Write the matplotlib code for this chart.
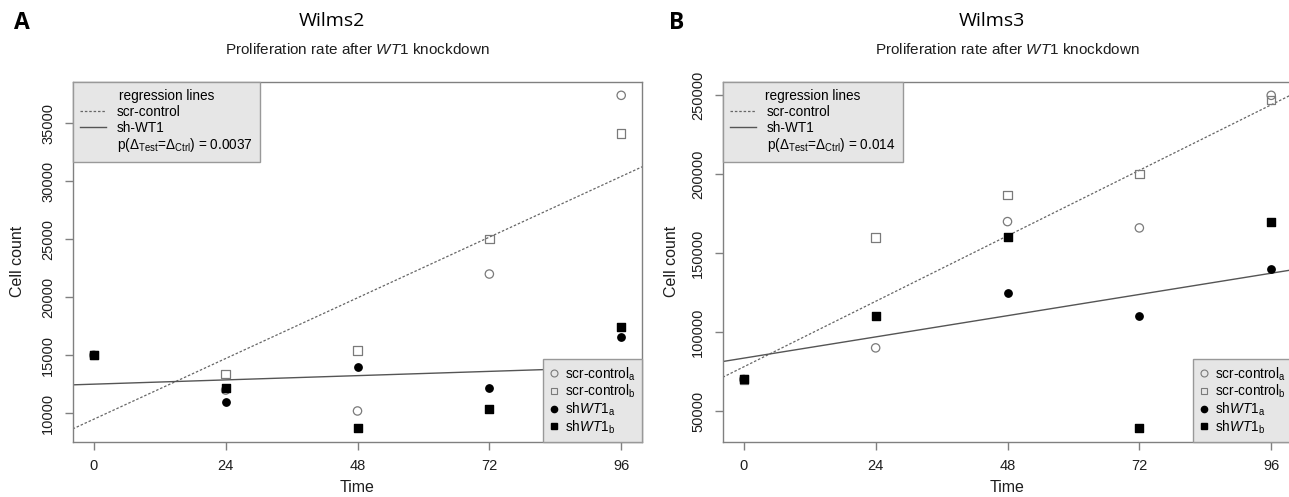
import numpy as np
import matplotlib
matplotlib.use("Agg")
import matplotlib.pyplot as plt
from matplotlib.lines import Line2D

plt.rcParams["font.family"] = ["Liberation Sans", "DejaVu Sans"]
plt.rcParams["mathtext.fontset"] = "custom"
plt.rcParams["mathtext.rm"] = "Liberation Sans"
plt.rcParams["mathtext.it"] = "Liberation Sans:italic"

time = [0, 24, 48, 72, 96]

# Wilms2
w2_scr_a = [15000, 12000, 10200, 22000, 37400]
w2_scr_b = [15000, 13400, 15400, 25000, 34100]
w2_sh_a = [15000, 11000, 14000, 12200, 16600]
w2_sh_b = [15000, 12200, 8700, 10350, 17400]
w2_p = "0.0037"

# Wilms3
w3_scr_a = [70000, 90000, 170000, 166000, 250000]
w3_scr_b = [70000, 160000, 187000, 200000, 247000]
w3_sh_a = [70000, 110000, 125000, 110000, 140000]
w3_sh_b = [70000, 110000, 160000, 39000, 170000]
w3_p = "0.014"

W, H = 1289, 497
fig = plt.figure(figsize=(W / 100, H / 100), dpi=100)

GRAY = "#808080"
OPEN = "#7a7a7a"
TXT = "#1e1e1e"


def panel(left_px, letter, letter_x, name, name_x, scr_a, scr_b, sh_a, sh_b, yticks, pval, ylab_x):
    top_px, bot_px, wid_px = 82, 441.7, 569.6
    ax = fig.add_axes([left_px / W, 1 - bot_px / H, wid_px / W, (bot_px - top_px) / H])
    t = np.array(time, dtype=float)
    allv = scr_a + scr_b + sh_a + sh_b
    lo, hi = min(allv), max(allv)
    ax.set_xlim(min(time) - 0.04 * (max(time) - min(time)), max(time) + 0.04 * (max(time) - min(time)))
    ax.set_ylim(lo - 0.04 * (hi - lo), hi + 0.04 * (hi - lo))

    ax.scatter(t, scr_a, marker="o", facecolors="none", edgecolors=OPEN, s=36, linewidths=0.9, zorder=3)
    ax.scatter(t, scr_b, marker="s", facecolors="none", edgecolors=OPEN, s=36, linewidths=0.9, zorder=3)
    ax.scatter(t, sh_a, marker="o", color="black", s=28, zorder=4)
    ax.scatter(t, sh_b, marker="s", color="black", s=32, zorder=4)

    # regression lines over both replicates
    m1, b1 = np.polyfit(np.concatenate([t, t]), np.array(scr_a + scr_b, dtype=float), 1)
    m2, b2 = np.polyfit(np.concatenate([t, t]), np.array(sh_a + sh_b, dtype=float), 1)
    ax.axline((0, b1), slope=m1, color="#666666", lw=0.9, dashes=(2, 1.5), zorder=2)
    ax.axline((0, b2), slope=m2, color="#555555", lw=1.0, zorder=2)

    for s in ax.spines.values():
        s.set_color(GRAY)
        s.set_linewidth(1.0)
    ax.set_xticks(time)
    ax.set_yticks(yticks)
    ax.set_yticklabels([str(v) for v in yticks], rotation=90, va="center")
    ax.tick_params(colors=GRAY, labelcolor=TXT, labelsize=10.5, length=6, width=1.0)
    ax.tick_params(axis="x", pad=6.5)
    ax.tick_params(axis="y", pad=6.5)

    ax.set_xlabel("Time", fontsize=11.5, color=TXT)
    ax.xaxis.set_label_coords(0.5, (bot_px - 488) / (bot_px - top_px))
    ax.xaxis.label.set_va("center")
    ax.set_ylabel("Cell count", fontsize=11.5, color=TXT)
    ax.yaxis.set_label_coords((ylab_x - left_px) / wid_px, 0.5)
    ax.yaxis.label.set_va("center")

    h1 = [Line2D([], [], color="#666666", lw=0.9, dashes=(2, 1.5)),
          Line2D([], [], color="#555555", lw=1.0),
          Line2D([], [], alpha=0)]
    l1 = ["scr-control", "sh-WT1",
          r"p($\Delta_{\mathrm{Test}}$=$\Delta_{\mathrm{Ctrl}}$) = " + pval]
    leg1 = ax.legend(h1, l1, title="regression lines", loc="upper left", borderaxespad=0,
                     fontsize=9.8, title_fontsize=9.8, frameon=True, fancybox=False,
                     framealpha=1, facecolor="#e6e6e6", edgecolor="#999999",
                     handlelength=1.9, handletextpad=0.8, labelspacing=0.12, borderpad=0.55)
    leg1.get_frame().set_linewidth(1.0)
    ax.add_artist(leg1)

    h2 = [Line2D([], [], ls="none", marker="o", mfc="none", mec=OPEN, ms=5, mew=0.8),
          Line2D([], [], ls="none", marker="s", mfc="none", mec=OPEN, ms=5, mew=0.8),
          Line2D([], [], ls="none", marker="o", color="black", ms=4.5),
          Line2D([], [], ls="none", marker="s", color="black", ms=4.5)]
    l2 = [r"scr-control$_{\mathrm{a}}$", r"scr-control$_{\mathrm{b}}$",
          r"sh$\mathit{WT1}_{\mathrm{a}}$", r"sh$\mathit{WT1}_{\mathrm{b}}$"]
    leg2 = ax.legend(h2, l2, loc="lower right", borderaxespad=0, fontsize=9.8,
                     frameon=True, fancybox=False, framealpha=1, facecolor="#e6e6e6",
                     edgecolor="#999999", handlelength=0.7, handletextpad=0.45,
                     labelspacing=0.02, borderpad=0.45)
    leg2.get_frame().set_linewidth(1.0)

    fig.text(letter_x / W, 1 - 23 / H, letter, fontsize=16.5, fontweight="bold",
             family=["Open Sans", "DejaVu Sans"], ha="center", va="center")
    fig.text(name_x / W, 1 - 21 / H, name, fontsize=14, family=["Open Sans", "DejaVu Sans"],
             ha="center", va="center")
    fig.text((left_px + wid_px / 2) / W, 1 - 50 / H,
             r"Proliferation rate after $\mathit{WT1}$ knockdown",
             fontsize=11, color=TXT, ha="center", va="center")
    return ax


panel(72.7, "A", 21.8, "Wilms2", 331.8, w2_scr_a, w2_scr_b, w2_sh_a, w2_sh_b,
      [10000, 15000, 20000, 25000, 30000, 35000], w2_p, 18)
panel(722.7, "B", 677, "Wilms3", 991.7, w3_scr_a, w3_scr_b, w3_sh_a, w3_sh_b,
      [50000, 100000, 150000, 200000, 250000], w3_p, 671)

fig.savefig("out.png", dpi=100)
